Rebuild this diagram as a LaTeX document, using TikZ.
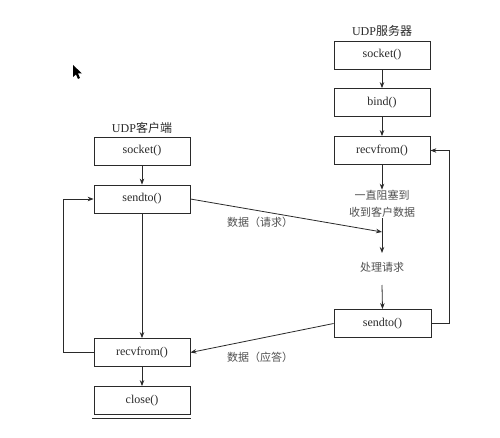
\documentclass[tikz,border=0pt]{standalone}
\usepackage{fontspec}
\setmainfont{Liberation Serif}
\newfontfamily\cjk{Noto Sans CJK SC}
\usetikzlibrary{arrows.meta}
\definecolor{ink}{HTML}{2A2A2A}
\definecolor{note}{HTML}{505050}
\begin{document}
\begin{tikzpicture}[x=1pt,y=-1pt,
  fnbox/.style={draw=ink,line width=0.8pt,minimum width=96pt,minimum height=28pt,
    inner sep=0pt,text=ink,font=\fontsize{12}{14}\selectfont},
  title/.style={text=ink,font=\fontsize{12}{14}\selectfont,inner sep=1pt},
  caption/.style={text=note,font=\fontsize{11}{17}\selectfont\cjk,align=center,inner sep=1pt},
  flow/.style={draw=ink,line width=0.8pt,-{Stealth[length=6pt,width=4.5pt]}},
  link/.style={draw=ink,line width=0.8pt}]
\useasboundingbox (0,0) rectangle (500,438);
\fill[white] (0,0) rectangle (500,438);

% mouse pointer
\fill[black] (73,65) -- (73,77) -- (76,74.5) -- (78,79) -- (80,78) -- (78,73.5) -- (82,73.5) -- cycle;

% client side
\node[title] (ctitle) at (142,128) {UDP{\cjk 客户端}};
\node[fnbox] (csock) at (142,151) {socket()};
\node[fnbox] (csend) at (142,199) {sendto()};
\node[fnbox] (crecv) at (142,352.5) {recvfrom()};
\node[fnbox] (cclose) at (142,400.5) {close()};
\draw[ink,line width=1.4pt] ([xshift=-1.5pt,yshift=-3.5pt]cclose.south west) -- ([xshift=1pt,yshift=-3.5pt]cclose.south east);

% server side
\node[title] (stitle) at (382,31) {UDP{\cjk 服务器}};
\node[fnbox] (ssock) at (382,55) {socket()};
\node[fnbox] (sbind) at (382,102.5) {bind()};
\node[fnbox] (srecv) at (382,150.5) {recvfrom()};
\node[caption] (swait) at (382,203.5) {一直阻塞到\\收到客户数据};
\coordinate (shit) at (382,232);
\coordinate (sprocin) at (382,253);
\coordinate (sprocout) at (382,285);
\node[caption] (sproc) at (382,267) {处理请求};
\node[fnbox,minimum width=97pt] (ssend) at (382.5,323.5) {sendto()};

% data labels
\node[caption] (lreq) at (260,222) {数据（请求）};
\node[caption] (lrep) at (260,357) {数据（应答）};

% client flow
\draw[flow] (csock) -- (csend);
\draw[flow] (csend) -- (crecv);
\draw[flow] (crecv) -- (cclose);
\draw[flow] (crecv.west) -- ++(-30,0) |- (csend.west);

% server flow
\draw[flow] (ssock) -- (sbind);
\draw[flow] (sbind) -- (srecv);
\draw[flow] (srecv.south) -- ([yshift=-1pt]swait.north);
\draw[flow] (swait.south) -- (sprocin);
\draw[flow] (sprocout) -- (ssend.north);
\draw[flow] (ssend.east) -- ++(18,0) |- (srecv.east);

% messages between the two sides
\draw[flow] (csend.east) -- (shit);
\draw[flow] (ssend.west) -- (crecv.east);
\end{tikzpicture}
\end{document}
